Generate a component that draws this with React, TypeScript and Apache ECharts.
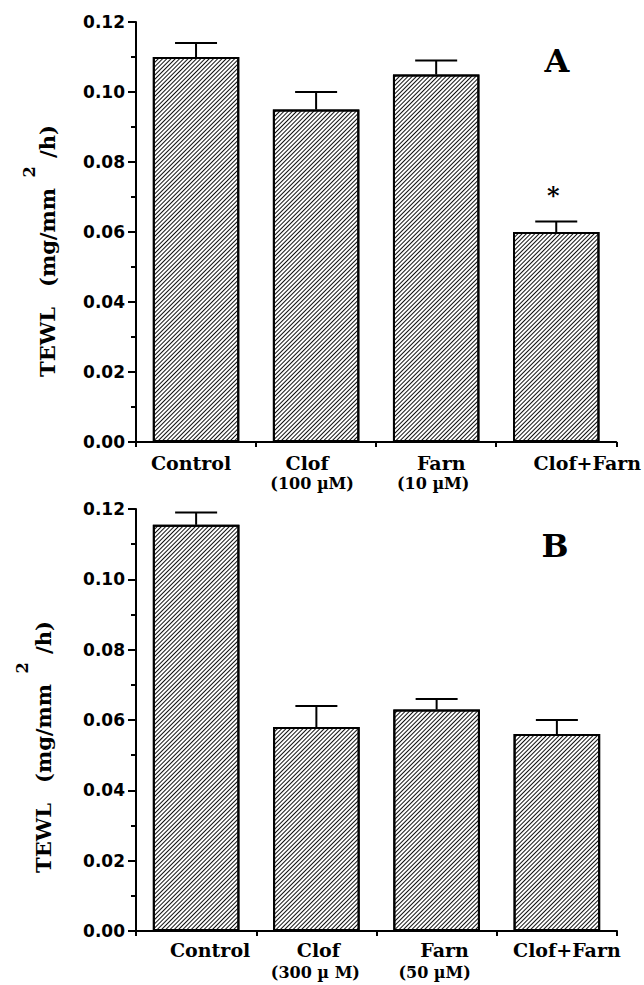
import React, { useEffect, useRef } from "react";
import * as echarts from "echarts";

const categories = ["Control", "Clof", "Farn", "Clof+Farn"];
const subLabelsA = ["", "(100 µM)", "(10 µM)", ""];
const subLabelsB = ["", "(300 µ M)", "(50 µM)", ""];
const valuesA = [0.11, 0.095, 0.105, 0.06];
const errTopA = [0.114, 0.1, 0.109, 0.063];
const marksA = ["", "", "", "*"];
const valuesB = [0.1155, 0.058, 0.063, 0.056];
const errTopB = [0.119, 0.064, 0.066, 0.06];
const marksB = ["", "", "", ""];
const yMin = 0;
const yMax = 0.12;
const yInterval = 0.02;

const SERIF = "DejaVu Serif";
const SANS = "DejaVu Sans";

function pad(d: number) {
  return d >= 0 ? [0, 0, 0, 2 * d] : [0, -2 * d, 0, 0];
}

function xLabel(subs: string[], mainOff: number[], subOff: number[], lh: number, margin: number) {
  const rich: any = {};
  categories.forEach((_, i) => {
    rich["m" + i] = { fontFamily: SERIF, fontWeight: "bold", fontSize: 19, lineHeight: lh, color: "#000", padding: pad(mainOff[i]) };
    rich["s" + i] = { fontFamily: SERIF, fontWeight: "bold", fontSize: 16, lineHeight: lh, color: "#000", padding: pad(subOff[i]) };
  });
  return {
    interval: 0,
    margin,
    rich,
    formatter: (v: string, i: number) => (subs[i] ? `{m${i}|${v}}\n{s${i}|${subs[i]}}` : `{m${i}|${v}}`),
  };
}

function yAxis(gridIndex: number) {
  return {
    type: "value",
    gridIndex,
    min: yMin,
    max: yMax,
    interval: yInterval,
    axisLine: { show: true, lineStyle: { color: "#000", width: 2 } },
    axisTick: { show: true, length: 8, lineStyle: { color: "#000", width: 2 } },
    minorTick: { show: true, splitNumber: 2, length: 5, lineStyle: { color: "#000", width: 2 } },
    splitLine: { show: false },
    axisLabel: {
      margin: 11,
      color: "#000",
      fontFamily: SANS,
      fontWeight: "bold",
      fontSize: 17,
      formatter: (v: number) => v.toFixed(2),
    },
  };
}

function xAxis(gridIndex: number, label: any) {
  return {
    type: "category",
    gridIndex,
    data: categories,
    axisLine: { show: true, lineStyle: { color: "#000", width: 2 } },
    axisTick: { show: true, interval: 0, length: 5, lineStyle: { color: "#000", width: 2 } },
    axisLabel: label,
  };
}

const decal = {
  symbol: "rect",
  symbolSize: 1,
  dashArrayX: [1, 0],
  dashArrayY: [1, 2],
  rotation: -Math.PI / 4,
  color: "#111",
  backgroundColor: "#fff",
};

function barSeries(idx: number, values: number[]) {
  return {
    type: "bar",
    xAxisIndex: idx,
    yAxisIndex: idx,
    data: values,
    barWidth: "72%",
    itemStyle: { color: "#fff", borderColor: "#000", borderWidth: 2, decal },
    z: 2,
  };
}

function errSeries(idx: number, values: number[], tops: number[], marks: string[]) {
  return {
    type: "custom",
    xAxisIndex: idx,
    yAxisIndex: idx,
    z: 3,
    data: categories.map((_, i) => [i, values[i], tops[i]]),
    encode: { x: 0, y: 2 },
    renderItem: (params: any, api: any) => {
      const i = api.value(0);
      const p0 = api.coord([i, api.value(1)]);
      const p1 = api.coord([i, api.value(2)]);
      const children: any[] = [
        { type: "line", shape: { x1: p0[0], y1: p0[1], x2: p1[0], y2: p1[1] }, style: { stroke: "#000", lineWidth: 2 } },
        { type: "line", shape: { x1: p1[0] - 21, y1: p1[1], x2: p1[0] + 21, y2: p1[1] }, style: { stroke: "#000", lineWidth: 2 } },
      ];
      const m = marks[params.dataIndex];
      if (m) {
        children.push({
          type: "text",
          x: p1[0] - 3,
          y: p1[1] - 26,
          style: { text: m, fontFamily: SERIF, fontWeight: "bold", fontSize: 24, fill: "#000", align: "center", verticalAlign: "middle" },
        });
      }
      return { type: "group", children };
    },
  };
}

function titleTexts(x: number, x2: number, dy: number) {
  const st = { fontFamily: SERIF, fontWeight: "bold", fontSize: 21, fill: "#000", align: "left", verticalAlign: "middle" };
  return [
    { type: "text", x, y: 377 + dy, rotation: Math.PI / 2, style: { ...st, text: "TEWL" } },
    { type: "text", x, y: 287 + dy, rotation: Math.PI / 2, style: { ...st, text: "(mg/mm" } },
    { type: "text", x, y: 158 + dy, rotation: Math.PI / 2, style: { ...st, text: "/h)" } },
    { type: "text", x: x2, y: 172 + dy, rotation: Math.PI / 2, style: { ...st, fontSize: 16, align: "center", text: "2" } },
  ];
}

export default function App() {
  const ref = useRef<HTMLDivElement>(null);
  useEffect(() => {
    document.body.style.margin = "0";
    const chart = echarts.init(ref.current!, null, { renderer: "svg" });
    chart.setOption({
      animation: false,
      backgroundColor: "#fff",
      grid: [
        { left: 136, top: 22, width: 481, height: 420 },
        { left: 136, top: 509, width: 481, height: 422 },
      ],
      xAxis: [
        xAxis(0, xLabel(subLabelsA, [-5, -9, 5, 31], [0, -4, -3, 0], 21, 10)),
        xAxis(1, xLabel(subLabelsB, [14, 2, 8, 10], [0, -1, -2, 0], 23, 7)),
      ],
      yAxis: [yAxis(0), yAxis(1)],
      series: [
        barSeries(0, valuesA),
        errSeries(0, valuesA, errTopA, marksA),
        barSeries(1, valuesB),
        errSeries(1, valuesB, errTopB, marksB),
      ],
      graphic: [
        ...titleTexts(47, 29, 0),
        ...titleTexts(43, 22, 496),
        { type: "text", x: 557, y: 61, style: { text: "A", fontFamily: SERIF, fontWeight: "bold", fontSize: 32, fill: "#000", align: "center", verticalAlign: "middle" } },
        { type: "text", x: 555, y: 546, style: { text: "B", fontFamily: SERIF, fontWeight: "bold", fontSize: 32, fill: "#000", align: "center", verticalAlign: "middle" } },
      ],
    });
    return () => chart.dispose();
  }, []);
  return <div ref={ref} style={{ position: "absolute", left: 0, top: 0, width: 644, height: 985 }} />;
}
